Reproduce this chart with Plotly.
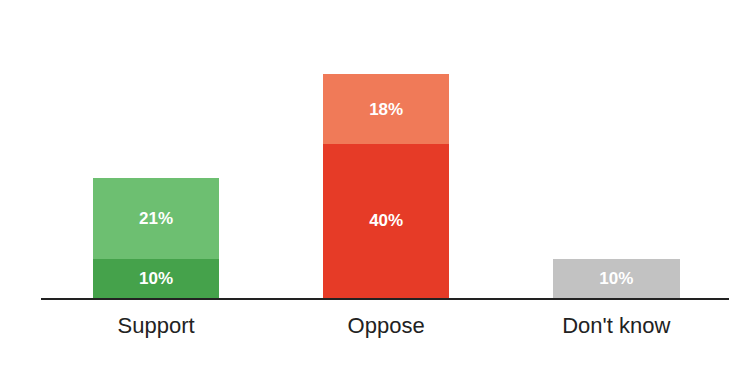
import plotly.graph_objects as go

categories = ["Support", "Oppose", "Don't know"]
base_values = [10, 40, 10]      # lower segment of each bar
upper_values = [21, 18, 0]      # upper segment of each bar

base_colors = ["#45a24b", "#e63b27", "#c2c2c2"]
upper_colors = ["#6dbf71", "#f07a58", "#c2c2c2"]

label_font = dict(family="Liberation Sans, Arial, sans-serif", size=17, color="white", weight="bold")

fig = go.Figure()
fig.add_trace(go.Bar(
    x=categories, y=base_values,
    marker=dict(color=base_colors, line=dict(width=0)),
    text=[f"{v}%" for v in base_values],
    textposition="inside", insidetextanchor="middle",
    textfont=label_font, width=0.55, hoverinfo="skip",
))
fig.add_trace(go.Bar(
    x=categories, y=upper_values,
    marker=dict(color=upper_colors, line=dict(width=0)),
    text=[f"{v}%" if v else "" for v in upper_values],
    textposition="inside", insidetextanchor="middle",
    textfont=label_font, width=0.55, hoverinfo="skip",
))

fig.update_layout(
    barmode="stack",
    width=729, height=366,
    margin=dict(l=41, r=0, t=28, b=68),
    paper_bgcolor="white", plot_bgcolor="white",
    showlegend=False,
    uniformtext=dict(mode="show", minsize=10),
    xaxis=dict(
        showline=True, linecolor="#222222", linewidth=2,
        ticks="outside", ticklen=7, tickcolor="rgba(0,0,0,0)",
        tickfont=dict(family="Liberation Sans, Arial, sans-serif", size=22, color="#222222"),
        showgrid=False, zeroline=False, range=[-0.5, 2.49],
    ),
    yaxis=dict(range=[0, 70], visible=False, showgrid=False, zeroline=False),
)

fig.write_html("out.html")
